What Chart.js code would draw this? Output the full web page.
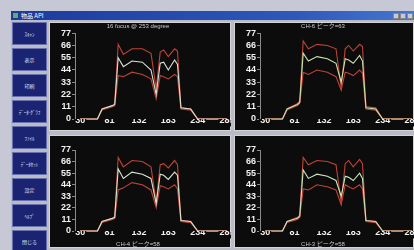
<!DOCTYPE html>
<html>
<head>
<meta charset="utf-8">
<script src="https://cdn.jsdelivr.net/npm/chart.js@4.4.0/dist/chart.umd.min.js"></script>
<style>
  body { margin: 0; width: 414px; height: 250px; overflow: hidden; position: relative;
         background: #c6c8d5; font-family: 'Liberation Sans', 'Noto Sans CJK JP', sans-serif; }
  #win { position: absolute; left: 11px; top: 11px; width: 403px; height: 239px; background: #b9bbc5; }
  #titlebar { position: absolute; left: 0; top: 0; width: 403px; height: 9px; color: #fff;
              background: linear-gradient(to right, #1c3a9c, #2c58bc 70%, #4676cf);
              font-size: 6px; line-height: 9px; }
  #titlebar .icon { position: absolute; left: 2px; top: 2px; width: 5px; height: 5px; background: #5fb05a; }
  #titlebar .name { position: absolute; left: 10px; top: 0; font-family: 'Noto Sans CJK JP', sans-serif; }
  #titlebar .ctl { position: absolute; top: 1.5px; width: 6px; height: 6px; background: #c9c9cf; border: 0.5px solid #888; box-sizing: border-box; }
  .btn { position: absolute; left: 1px; width: 35px; height: 23px; background: #1b2472;
         border: 1px solid #6a73b0; box-sizing: border-box; color: #dfe3f5; font-size: 5px;
         display: flex; align-items: center; justify-content: center;
         font-family: 'Noto Sans CJK JP', sans-serif; }
  .panel { position: absolute; overflow: hidden; background: #0c0c0c; box-shadow: inset 0 0 0 1px #d4d4d8; }
  .panel canvas { position: absolute; left: 0; top: 0; }
</style>
</head>
<body>
<div id="win">
  <div id="titlebar">
    <div class="icon"></div><div class="name">物品 API</div>
    <div class="ctl" style="left:382px"></div>
    <div class="ctl" style="left:389px"></div>
    <div class="ctl" style="left:396px"></div>
  </div>
  <div class="btn" style="top:11px">ｽｷｬﾝ</div>
  <div class="btn" style="top:37px">表示</div>
  <div class="btn" style="top:63px">印刷</div>
  <div class="btn" style="top:89px">ﾃﾞｰﾀ-ｸﾞﾗﾌ</div>
  <div class="btn" style="top:115px">ﾌｧｲﾙ</div>
  <div class="btn" style="top:141px">ﾃﾞｰﾀｾｯﾄ</div>
  <div class="btn" style="top:167px">設定</div>
  <div class="btn" style="top:193px">ﾍﾙﾌﾟ</div>
  <div class="btn" style="top:219px">閉じる</div>
</div>
<div class="panel" style="left:49px; top:22px; width:182px; height:109px"><canvas id="chart-1" width="190" height="109"></canvas></div>
<div class="panel" style="left:234px; top:22px; width:180px; height:109px"><canvas id="chart-2" width="190" height="109"></canvas></div>
<div class="panel" style="left:49px; top:135px; width:182px; height:113px"><canvas id="chart-3" width="190" height="113"></canvas></div>
<div class="panel" style="left:234px; top:135px; width:180px; height:113px"><canvas id="chart-4" width="190" height="113"></canvas></div>

<script>
// axis ticks
const xTicks = [30, 81, 132, 183, 234, 285];
const yTicks = [0, 11, 22, 33, 44, 55, 66, 77];

const positions = [30, 60, 68, 86, 90, 96, 105, 120, 138, 153, 162, 169, 175, 183, 194, 199, 205, 222, 234, 285];

// top left
const upper1 = [0, 0, 9, 12, 14, 67, 58, 63, 63, 59, 27, 60, 62, 56, 63, 61, 10, 9, 0, 0];
const mid1 = [0, 0, 9, 12, 13, 55, 47, 52, 51, 44, 22, 50, 51, 44, 53, 49, 10, 9, 0, 0];
const lower1 = [0, 0, 8, 11, 12, 39, 38, 42, 40, 36, 18, 39, 38, 36, 40, 38, 9, 8, 0, 0];

// top right
const upper2 = [0, 0, 9, 14, 16, 70, 63, 67, 66, 63, 28, 63, 66, 61, 67, 65, 11, 10, 0, 0];
const mid2 = [0, 0, 9, 13, 15, 59, 52, 56, 54, 50, 33, 54, 53, 50, 57, 52, 10, 9, 0, 0];
const lower2 = [0, 0, 8, 12, 14, 42, 40, 44, 42, 38, 26, 42, 41, 39, 44, 41, 9, 8, 0, 0];

// bottom left
const upper3 = [0, 0, 9, 12, 14, 70, 61, 67, 66, 61, 27, 63, 64, 60, 67, 63, 10, 9, 0, 0];
const mid3 = [0, 0, 9, 12, 13, 59, 50, 56, 54, 50, 26, 54, 53, 49, 56, 53, 10, 9, 0, 0];
const lower3 = [0, 0, 8, 11, 12, 39, 41, 46, 44, 39, 22, 43, 42, 40, 44, 40, 9, 8, 0, 0];

// bottom right
const upper4 = [0, 0, 9, 13, 15, 70, 63, 67, 66, 63, 27, 64, 67, 61, 68, 64, 10, 9, 0, 0];
const mid4 = [0, 0, 9, 12, 14, 58, 50, 54, 52, 48, 33, 52, 51, 48, 55, 50, 10, 9, 0, 0];
const lower4 = [0, 0, 8, 11, 13, 40, 39, 44, 42, 39, 25, 44, 42, 40, 44, 40, 9, 8, 0, 0];

const toPoints = (values) => values.map((v, i) => ({ x: positions[i], y: v }));

const tickFont = { family: 'Liberation Sans', size: 9, weight: 'bold' };

const makeChart = (id, upper, mid, lower, midColor, text, where) => {
  const line = (data, color) => ({
    data: toPoints(data),
    borderColor: color,
    borderWidth: 1.1,
    pointRadius: 0,
    tension: 0,
    clip: false,
  });
  return new Chart(document.getElementById(id), {
    type: 'line',
    data: {
      datasets: [line(mid, midColor), line(upper, '#bf4336'), line(lower, '#bf4336')],
    },
    options: {
      responsive: false,
      animation: false,
      layout: { padding: { top: where === 'top' ? 0 : 15, right: 12, bottom: 0, left: 0 } },
      plugins: {
        legend: { display: false },
        tooltip: { enabled: false },
        title: {
          display: true,
          position: where,
          text: text,
          color: '#c9c9c9',
          font: { family: "'Liberation Sans', 'Noto Sans CJK JP'", size: 6, weight: 'normal' },
          padding: where === 'top' ? { top: 1, bottom: 3 } : { top: 0, bottom: 0.5 },
        },
      },
      scales: {
        x: {
          type: 'linear',
          min: 21,
          max: 285,
          afterBuildTicks: (scale) => { scale.ticks = xTicks.map((v) => ({ value: v })); },
          afterFit: (scale) => { scale.height = where === 'top' ? 12 : 9.3; },
          grid: { display: false, drawTicks: false },
          border: { display: false },
          ticks: {
            color: '#f2f2f2',
            font: tickFont,
            padding: -3.4,
            maxRotation: 0,
            autoSkip: false,
            showLabelBackdrop: true,
            backdropColor: '#0c0c0c',
            backdropPadding: { x: 1, y: 0 },
            z: 1,
          },
        },
        y: {
          min: 0,
          max: 77,
          afterBuildTicks: (scale) => { scale.ticks = yTicks.map((v) => ({ value: v })); },
          afterFit: (scale) => { scale.width = 26; },
          grid: { drawOnChartArea: false, drawTicks: true, tickLength: 3, color: '#8a8a8a' },
          border: { display: true, color: '#8a8a8a', width: 1 },
          ticks: { color: '#f2f2f2', font: tickFont, padding: 1, autoSkip: false },
        },
      },
    },
  });
};

makeChart('chart-1', upper1, mid1, lower1, '#dae4d4', '16 focus @ 253 degree', 'top');
makeChart('chart-2', upper2, mid2, lower2, '#cce4ae', 'CH-6 ピーク=63', 'top');
makeChart('chart-3', upper3, mid3, lower3, '#d8e6d0', 'CH-4 ピーク=58', 'bottom');
makeChart('chart-4', upper4, mid4, lower4, '#c8e6bc', 'CH-3 ピーク=58', 'bottom');
</script>
</body>
</html>
